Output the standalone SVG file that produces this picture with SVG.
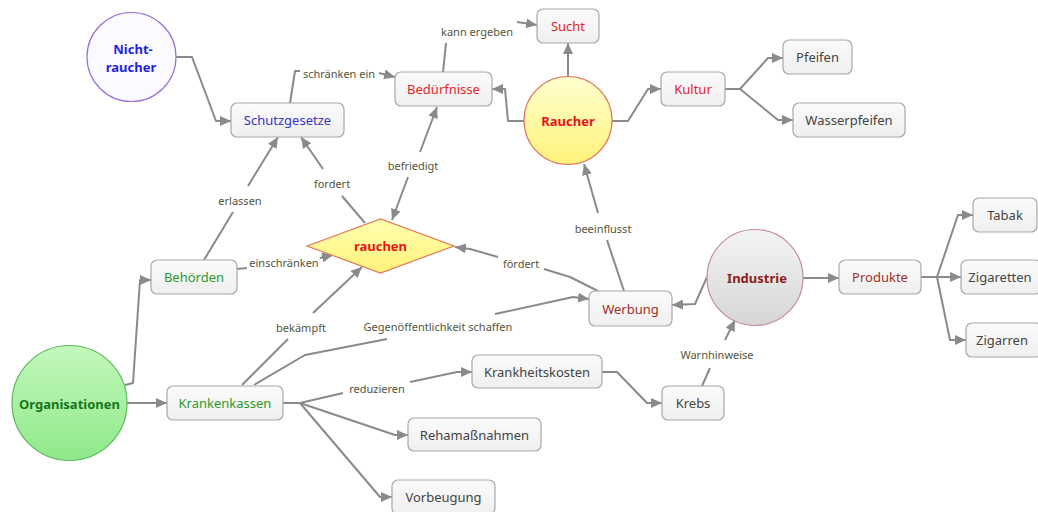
<svg xmlns="http://www.w3.org/2000/svg" width="1038" height="512" viewBox="0 0 1038 512">
<style>
.box{fill:url(#gBox);stroke:#a8a8a8;stroke-width:1.2}
.t{font-family:"Noto Sans","Open Sans",sans-serif;font-size:13px;text-anchor:middle;dominant-baseline:central}
.b{font-weight:bold}
.gray{fill:#444}
.red{fill:#e8242a}
.blue{fill:#3535c8}
.green{fill:#2e9a2e}
.dred{fill:#a03028}
.c{fill:none;stroke:#8a8a8a;stroke-width:2;stroke-linejoin:round}
.a{marker-end:url(#arr)}
.lbl{font-family:"Noto Sans","Open Sans",sans-serif;font-size:11px;fill:#55543a;text-anchor:middle;dominant-baseline:central}
</style>
<defs>
<linearGradient id="gBox" x1="0" y1="0" x2="0" y2="1"><stop offset="0" stop-color="#fbfbfb"/><stop offset="1" stop-color="#efefef"/></linearGradient>
<linearGradient id="gGreen" x1="0" y1="0" x2="0" y2="1"><stop offset="0" stop-color="#c4f8bc"/><stop offset="1" stop-color="#8fe88a"/></linearGradient>
<linearGradient id="gYellow" x1="0" y1="0" x2="0" y2="1"><stop offset="0" stop-color="#ffffd0"/><stop offset="1" stop-color="#fff27a"/></linearGradient>
<linearGradient id="gGray" x1="0" y1="0" x2="0" y2="1"><stop offset="0" stop-color="#f4f4f4"/><stop offset="1" stop-color="#d6d6d6"/></linearGradient>
<linearGradient id="gDia" x1="0" y1="0" x2="0" y2="1"><stop offset="0" stop-color="#ffffb0"/><stop offset="1" stop-color="#fff27a"/></linearGradient>
<marker id="arr" markerUnits="userSpaceOnUse" markerWidth="12" markerHeight="10" refX="11" refY="5" orient="auto"><path d="M0,0 L11,5 L0,10 z" fill="#8a8a8a"/></marker>
</defs>
<rect width="1038" height="512" fill="#ffffff"/>

<g id="connectors">
<path class="c a" d="M176,57 L192,57 L216,121 L231,121"/>
<path class="c" d="M290,103 L295,71 L300,71"/>
<text class="lbl" x="339" y="73">schränken ein</text>
<path class="c a" d="M379,73 L395,77"/>
<path class="c" d="M443,72 L446,43"/>
<text class="lbl" x="477" y="31">kann ergeben</text>
<path class="c a" d="M517,22 L537,25"/>
<path class="c a" d="M568,76 L568,43"/>
<path class="c a" d="M524,121 L508,121 L505,89 L492,89"/>
<path class="c a" d="M612,121 L628,121 L648,89 L661,89"/>
<path class="c a" d="M725,89 L740,89 L768,58 L783,58"/>
<path class="c a" d="M740,89 L778,120 L793,120"/>
<path class="c" d="M365,223 L342,196"/>
<text class="lbl" x="332" y="183">fordert</text>
<path class="c a" d="M323,169 L301,137"/>
<path class="c" d="M204,260 L233,212"/>
<text class="lbl" x="240" y="200">erlassen</text>
<path class="c a" d="M248,186 L278,137"/>
<path class="c a" d="M420,152 L437,107"/>
<text class="lbl" x="413" y="165">befriedigt</text>
<path class="c a" d="M408,177 L392,220"/>
<path class="c" d="M237,269 L247,268"/>
<text class="lbl" x="284" y="262">einschränken</text>
<path class="c a" d="M320,258 L333,255"/>
<path class="c" d="M242,385 L288,339"/>
<text class="lbl" x="301" y="327">bekämpft</text>
<path class="c a" d="M313,313 L362,267"/>
<path class="c" d="M254,385 L305,355 L387,339"/>
<text class="lbl" x="438" y="326">Gegenöffentlichkeit schaffen</text>
<path class="c a" d="M495,314 L573,297 L589,299"/>
<path class="c" d="M598,291 L570,277 L544,269"/>
<text class="lbl" x="521" y="263">fördert</text>
<path class="c a" d="M498,257 L470,249 L455,247"/>
<path class="c" d="M624,291 L607,240"/>
<text class="lbl" x="603" y="228">beeinflusst</text>
<path class="c a" d="M598,213 L584,164"/>
<path class="c a" d="M707,277 L695,304 L672,305"/>
<path class="c a" d="M803,278 L839,278"/>
<path class="c a" d="M921,277 L937,277 L958,215 L973,215"/>
<path class="c a" d="M937,277 L961,277"/>
<path class="c a" d="M937,277 L950,340 L966,340"/>
<path class="c" d="M702,386 L710,368"/>
<text class="lbl" x="717" y="354">Warnhinweise</text>
<path class="c a" d="M725,340 L735,320"/>
<path class="c a" d="M125,385 L133,383 L140,280 L151,280"/>
<path class="c a" d="M127,403 L167,403"/>
<path class="c" d="M283,403 L300,403 L343,393"/>
<text class="lbl" x="377" y="388">reduzieren</text>
<path class="c a" d="M410,382 L457,372 L472,372"/>
<path class="c a" d="M300,403 L395,435 L408,435"/>
<path class="c a" d="M300,403 L380,497 L392,497"/>
<path class="c a" d="M602,372 L617,372 L647,403 L662,403"/>
</g>

<g id="nichtraucher">
<circle cx="131.5" cy="57" r="44.5" fill="#fafaff" stroke="#9a70d8" stroke-width="1.2"/>
<text class="t b" x="133" y="49" fill="#1f1fe0">Nicht-</text>
<text class="t b" x="131" y="67" fill="#1f1fe0">raucher</text>
</g>
<g id="schutzgesetze">
<rect class="box" x="231" y="103" width="113" height="34" rx="6"/>
<text class="t blue" x="287.5" y="120">Schutzgesetze</text>
</g>
<g id="beduerfnisse">
<rect class="box" x="395" y="72" width="97" height="34" rx="6"/>
<text class="t red" x="443.5" y="89">Bedürfnisse</text>
</g>
<g id="sucht">
<rect class="box" x="537" y="9" width="62" height="34" rx="6"/>
<text class="t red" x="568" y="26">Sucht</text>
</g>
<g id="raucher">
<circle cx="568" cy="120.5" r="44" fill="url(#gYellow)" stroke="#e0785a" stroke-width="1.2"/>
<text class="t b" x="568" y="121" fill="#e8141a">Raucher</text>
</g>
<g id="kultur">
<rect class="box" x="661" y="72" width="64" height="34" rx="6"/>
<text class="t red" x="693" y="89">Kultur</text>
</g>
<g id="pfeifen">
<rect class="box" x="783" y="40" width="69" height="34" rx="6"/>
<text class="t gray" x="817.5" y="57">Pfeifen</text>
</g>
<g id="wasserpfeifen">
<rect class="box" x="793" y="103" width="112" height="34" rx="6"/>
<text class="t gray" x="849" y="120">Wasserpfeifen</text>
</g>
<g id="rauchen">
<polygon points="307,246 380.5,219 454,246 380.5,273" fill="url(#gDia)" stroke="#e0785a" stroke-width="1.2"/>
<text class="t b" x="380.5" y="246" fill="#e8141a">rauchen</text>
</g>
<g id="behoerden">
<rect class="box" x="151" y="260" width="86" height="34" rx="6"/>
<text class="t green" x="194" y="277">Behörden</text>
</g>
<g id="werbung">
<rect class="box" x="589" y="291" width="83" height="35" rx="6"/>
<text class="t dred" x="630.5" y="308.5">Werbung</text>
</g>
<g id="industrie">
<circle cx="755" cy="277.5" r="48" fill="url(#gGray)" stroke="#c48aa0" stroke-width="1.2"/>
<text class="t b" x="757" y="278" fill="#8e1c1c">Industrie</text>
</g>
<g id="produkte">
<rect class="box" x="839" y="260" width="82" height="34" rx="6"/>
<text class="t dred" x="880" y="277">Produkte</text>
</g>
<g id="tabak">
<rect class="box" x="973" y="198" width="64" height="34" rx="6"/>
<text class="t gray" x="1005" y="215">Tabak</text>
</g>
<g id="zigaretten">
<rect class="box" x="961" y="260" width="80" height="34" rx="6"/>
<text class="t gray" x="1000" y="277">Zigaretten</text>
</g>
<g id="zigarren">
<rect class="box" x="966" y="323" width="76" height="34" rx="6"/>
<text class="t gray" x="1002" y="340">Zigarren</text>
</g>
<g id="organisationen">
<circle cx="69.5" cy="403" r="57.5" fill="url(#gGreen)" stroke="#5cb85c" stroke-width="1.2"/>
<text class="t b" x="69.5" y="404" fill="#16761c">Organisationen</text>
</g>
<g id="krankenkassen">
<rect class="box" x="167" y="386" width="116" height="34" rx="6"/>
<text class="t green" x="225" y="403">Krankenkassen</text>
</g>
<g id="krankheitskosten">
<rect class="box" x="472" y="355" width="130" height="33" rx="6"/>
<text class="t gray" x="537" y="371.5">Krankheitskosten</text>
</g>
<g id="krebs">
<rect class="box" x="662" y="386" width="62" height="34" rx="6"/>
<text class="t gray" x="693" y="403">Krebs</text>
</g>
<g id="rehamassnahmen">
<rect class="box" x="408" y="418" width="133" height="33" rx="6"/>
<text class="t gray" x="474.5" y="434.5">Rehamaßnahmen</text>
</g>
<g id="vorbeugung">
<rect class="box" x="392" y="480" width="103" height="34" rx="6"/>
<text class="t gray" x="443.5" y="497">Vorbeugung</text>
</g>
</svg>
